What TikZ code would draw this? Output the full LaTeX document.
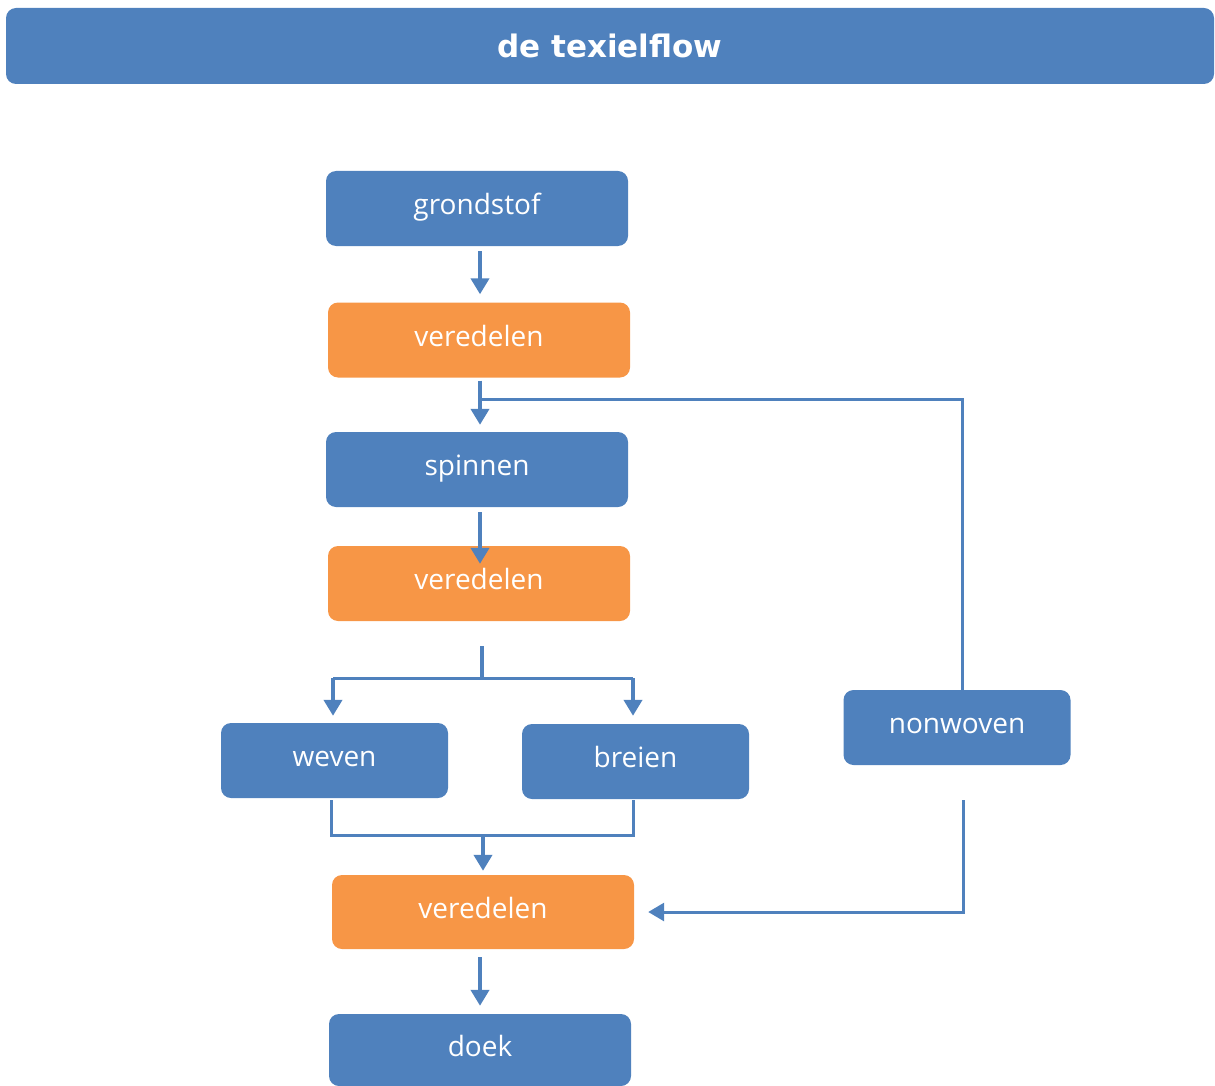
\documentclass[tikz,border=0pt]{standalone}
\usepackage{fontspec}
\setmainfont{Open Sans}
\newfontfamily\titlefont{DejaVu Sans}
\usetikzlibrary{arrows.meta}
\definecolor{cblue}{HTML}{4F81BD}
\definecolor{corange}{HTML}{F79646}
\begin{document}
\begin{tikzpicture}[x=1pt,y=-1pt,
  box/.style={rounded corners=10pt, minimum width=302pt, minimum height=75pt, text=white, font=\fontsize{28}{32}\selectfont, inner sep=0pt, text height=18pt, text depth=6pt},
  bluebox/.style={box, fill=cblue},
  orangebox/.style={box, fill=corange},
  smallbox/.style={bluebox, minimum width=227pt},
  conn/.style={draw=cblue, line width=4pt},
  thin/.style={draw=cblue, line width=3pt},
  tip/.style={-{Triangle[width=18pt,length=16pt]}},
  arr/.style={conn, tip}
]
\useasboundingbox (0,0) rectangle (1215,1086);
\node[fill=cblue, rounded corners=10pt, minimum width=1208pt, minimum height=76pt, inner sep=0pt, text=white, font=\titlefont\bfseries\fontsize{31}{36}\selectfont] (title) at (610,46) {de texielflow};

\node[bluebox] (g) at (477,208.5) {grondstof};
\node[orangebox] (v1) at (479,340) {veredelen};
\node[bluebox] (sp) at (477,469.5) {spinnen};
\node[orangebox] (v2) at (479,583.5) {veredelen};
\node[smallbox] (we) at (334.5,760.5) {weven};
\node[smallbox] (br) at (635.5,761.5) {breien};
\node[smallbox] (nw) at (957,727.5) {nonwoven};
\node[orangebox, minimum height=74pt] (v3) at (483,912) {veredelen};
\node[bluebox, minimum height=72pt] (dk) at (480,1050) {doek};

% grondstof -> veredelen
\draw[arr] ([xshift=3pt,yshift=-5pt]g.south) -- ([xshift=1pt,yshift=8pt]v1.north);
% veredelen -> spinnen, with branch to nonwoven
\coordinate (b1) at (480,399);
\coordinate (b2) at (962,399);
\draw[arr] ([xshift=1pt,yshift=-3pt]v1.south) -- ([xshift=3pt,yshift=7pt]sp.north);
\draw[thin] (b1) -- (b2) -- ([xshift=5pt]nw.north);
% spinnen -> veredelen
\draw[arr] ([xshift=3pt,yshift=-5pt]sp.south) -- ([xshift=1pt,yshift=-18pt]v2.north);
% veredelen -> weven / breien
\coordinate (s1) at (482,646);
\coordinate (j1) at (482,678);
\coordinate (jl) at (333,678);
\coordinate (jr) at (633,678);
\draw[conn] (s1) -- (j1);
\draw[thin] (jl) -- (jr);
\draw[arr] (jl) -- ([xshift=-1.5pt,yshift=7pt]we.north);
\draw[arr] (jr) -- ([xshift=-2.5pt,yshift=8pt]br.north);
% weven / breien -> veredelen
\coordinate (kl) at (331,835);
\coordinate (kr) at (633,835);
\coordinate (k) at (483,835);
\draw[thin] ([xshift=-3.5pt,yshift=-2pt]we.south) -- (kl) -- (kr) -- ([xshift=-2.5pt,yshift=-1pt]br.south);
\draw[arr] (k) -- ([yshift=4pt]v3.north);
% nonwoven -> veredelen
\coordinate (n1) at (963,912);
\draw[thin, tip] ([xshift=6pt,yshift=-35pt]nw.south) -- (n1) -- ([xshift=14pt]v3.east);
% veredelen -> doek
\draw[arr] ([xshift=-3pt,yshift=-8pt]v3.south) -- ([yshift=8pt]dk.north);
\end{tikzpicture}
\end{document}
